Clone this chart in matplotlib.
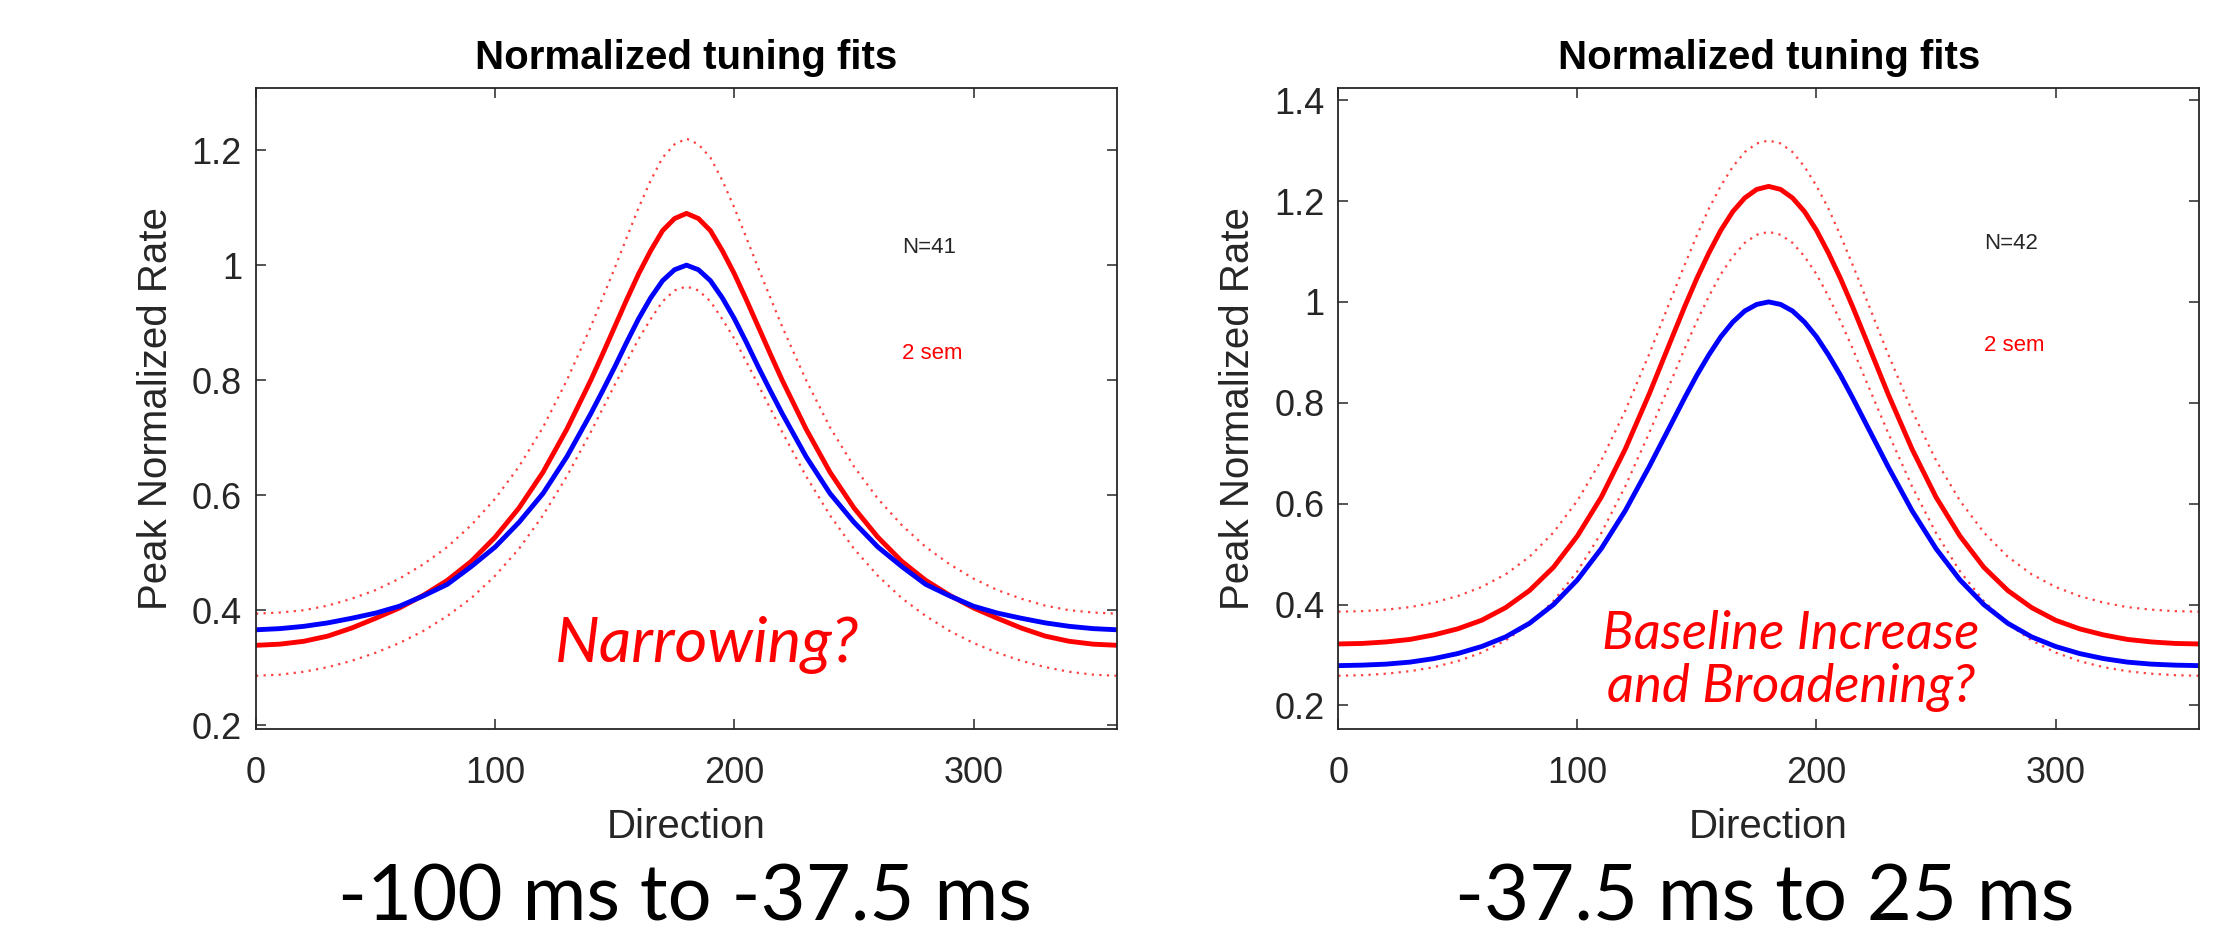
import matplotlib
matplotlib.use("Agg")
import matplotlib.pyplot as plt

# ---------------- data ----------------
direction = [0, 10, 20, 30, 40, 50, 60, 70, 80, 90, 100, 110, 120, 130, 140,
             145, 150, 155, 160, 165, 170, 175, 180, 185, 190, 195, 200, 205, 210, 215,
             220, 230, 240, 250, 260, 270, 280, 290, 300, 310, 320, 330, 340, 350, 360]

# left panel (-100 ms to -37.5 ms)
left_blue = [0.366, 0.368, 0.372, 0.378, 0.386, 0.395, 0.407, 0.425, 0.445, 0.476, 0.510, 0.553,
             0.603, 0.667, 0.742, 0.782, 0.823, 0.866, 0.907, 0.943, 0.973, 0.992, 1.000,
             0.992, 0.973, 0.943, 0.907, 0.866, 0.823, 0.782, 0.742, 0.667, 0.603, 0.553,
             0.510, 0.476, 0.445, 0.425, 0.407, 0.395, 0.386, 0.378, 0.372, 0.368, 0.366]
left_red = [0.339, 0.341, 0.346, 0.355, 0.369, 0.386, 0.404, 0.426, 0.452, 0.485, 0.527, 0.578,
            0.640, 0.715, 0.800, 0.846, 0.893, 0.940, 0.985, 1.025, 1.060, 1.081, 1.090,
            1.081, 1.060, 1.025, 0.985, 0.940, 0.893, 0.846, 0.800, 0.715, 0.640, 0.578,
            0.527, 0.485, 0.452, 0.426, 0.404, 0.386, 0.369, 0.355, 0.346, 0.341, 0.339]
left_red_hi = [0.394, 0.396, 0.400, 0.408, 0.420, 0.435, 0.455, 0.480, 0.510, 0.548, 0.594, 0.650,
               0.718, 0.800, 0.893, 0.944, 0.995, 1.048, 1.100, 1.147, 1.187, 1.210, 1.220,
               1.210, 1.187, 1.147, 1.100, 1.048, 0.995, 0.944, 0.893, 0.800, 0.718, 0.650,
               0.594, 0.548, 0.510, 0.480, 0.455, 0.435, 0.420, 0.408, 0.400, 0.396, 0.394]
left_red_lo = [0.286, 0.288, 0.293, 0.301, 0.312, 0.326, 0.343, 0.364, 0.390, 0.421, 0.460, 0.507,
               0.565, 0.633, 0.710, 0.751, 0.792, 0.832, 0.872, 0.906, 0.937, 0.956, 0.963,
               0.956, 0.937, 0.906, 0.872, 0.832, 0.792, 0.751, 0.710, 0.633, 0.565, 0.507,
               0.460, 0.421, 0.390, 0.364, 0.343, 0.326, 0.312, 0.301, 0.293, 0.288, 0.286]

# right panel (-37.5 ms to 25 ms)
right_blue = [0.279, 0.280, 0.282, 0.286, 0.293, 0.303, 0.317, 0.336, 0.363, 0.400, 0.449, 0.511,
              0.586, 0.673, 0.765, 0.811, 0.855, 0.895, 0.931, 0.960, 0.982, 0.995, 1.000,
              0.995, 0.982, 0.960, 0.931, 0.895, 0.855, 0.811, 0.765, 0.673, 0.586, 0.511,
              0.449, 0.400, 0.363, 0.336, 0.317, 0.303, 0.293, 0.286, 0.282, 0.280, 0.279]
right_red = [0.322, 0.323, 0.326, 0.331, 0.340, 0.352, 0.369, 0.394, 0.428, 0.474, 0.536, 0.613,
             0.708, 0.817, 0.934, 0.992, 1.047, 1.097, 1.142, 1.179, 1.206, 1.223, 1.229,
             1.223, 1.206, 1.179, 1.142, 1.097, 1.047, 0.992, 0.934, 0.817, 0.708, 0.613,
             0.536, 0.474, 0.428, 0.394, 0.369, 0.352, 0.340, 0.331, 0.326, 0.323, 0.322]
right_red_hi = [0.386, 0.387, 0.390, 0.395, 0.404, 0.417, 0.435, 0.460, 0.495, 0.543, 0.606, 0.686,
                0.784, 0.896, 1.016, 1.075, 1.132, 1.185, 1.230, 1.268, 1.297, 1.314, 1.320,
                1.314, 1.297, 1.268, 1.230, 1.185, 1.132, 1.075, 1.016, 0.896, 0.784, 0.686,
                0.606, 0.543, 0.495, 0.460, 0.435, 0.417, 0.404, 0.395, 0.390, 0.387, 0.386]
right_red_lo = [0.259, 0.260, 0.263, 0.268, 0.276, 0.288, 0.305, 0.329, 0.362, 0.407, 0.466, 0.542,
                0.634, 0.740, 0.852, 0.909, 0.962, 1.011, 1.055, 1.090, 1.117, 1.133, 1.139,
                1.133, 1.117, 1.090, 1.055, 1.011, 0.962, 0.909, 0.852, 0.740, 0.634, 0.542,
                0.466, 0.407, 0.362, 0.329, 0.305, 0.288, 0.276, 0.268, 0.263, 0.260, 0.259]

x_ticks = [0, 100, 200, 300]
left_yticks = [0.2, 0.4, 0.6, 0.8, 1.0, 1.2]
left_yticklabels = ["0.2", "0.4", "0.6", "0.8", "1", "1.2"]
right_yticks = [0.2, 0.4, 0.6, 0.8, 1.0, 1.2, 1.4]
right_yticklabels = ["0.2", "0.4", "0.6", "0.8", "1", "1.2", "1.4"]

titles = ["Normalized tuning fits", "Normalized tuning fits"]
n_labels = ["N=41", "N=42"]
sem_label = "2 sem"
annotations = ["Narrowing?", "Baseline Increase\nand Broadening?"]
captions = ["-100 ms to -37.5 ms", "-37.5 ms to 25 ms"]

# ---------------- figure ----------------
W, H = 2215, 941
fig = plt.figure(figsize=(W / 100, H / 100), dpi=100)
plt.rcParams['font.family'] = ['Liberation Sans', 'DejaVu Sans']

dark = '#262626'
panels = [
    dict(rect=[256 / W, 1 - 728.7 / H, 861 / W, 640.7 / H], ylim=(0.194, 1.308),
         yt=left_yticks, ytl=left_yticklabels,
         blue=left_blue, red=left_red, hi=left_red_hi, lo=left_red_lo,
         ny=1.03, sy=0.847, ann_xy=(188.5, 0.310), ann_fs=45.5),
    dict(rect=[1338.3 / W, 1 - 728.7 / H, 860.7 / W, 640.7 / H], ylim=(0.154, 1.424),
         yt=right_yticks, ytl=right_yticklabels,
         blue=right_blue, red=right_red, hi=right_red_hi, lo=right_red_lo,
         ny=1.116, sy=0.914, ann_xy=(189.3, 0.206), ann_fs=38),
]

for i, p in enumerate(panels):
    ax = fig.add_axes(p['rect'])
    ax.plot(direction, p['hi'], color='#ff4040', lw=1.6, linestyle=(0, (1, 2.4)))
    ax.plot(direction, p['lo'], color='#ff4040', lw=1.6, linestyle=(0, (1, 2.4)))
    ax.plot(direction, p['red'], color='#ff0000', lw=3.5, solid_joinstyle='round')
    ax.plot(direction, p['blue'], color='#0000ff', lw=3.5, solid_joinstyle='round')
    ax.set_xlim(0, 360)
    ax.set_ylim(*p['ylim'])
    ax.set_xticks(x_ticks)
    ax.set_xticklabels([str(t) for t in x_ticks])
    ax.set_yticks(p['yt'])
    ax.set_yticklabels(p['ytl'])
    ax.tick_params(direction='in', length=7, width=1.1, colors=dark, labelsize=26,
                   top=True, right=True)
    ax.tick_params(axis='x', pad=20)
    ax.tick_params(axis='y', pad=10)
    for s in ax.spines.values():
        s.set_color(dark)
        s.set_linewidth(1.3)
    ax.set_title(titles[i], fontsize=29, fontweight='bold', color='black', pad=14)
    ax.set_xlabel("Direction", fontsize=29, color=dark, labelpad=12)
    ax.set_ylabel("Peak Normalized Rate", fontsize=29, color=dark, labelpad=12)
    ax.text(270, p['ny'], n_labels[i], fontsize=16, color=dark, va='center', ha='left')
    ax.text(270, p['sy'], sem_label, fontsize=16, color='#ff0000', va='center', ha='left')
    ax.text(p['ann_xy'][0], p['ann_xy'][1], annotations[i], fontsize=p['ann_fs'],
            color='#ff0000', style='italic', family=['Lato', 'DejaVu Sans'],
            ha='center', va='baseline', multialignment='center', linespacing=1.14)

fig.text(684.5 / W, 1 - 899 / H, captions[0], fontsize=56, color='black',
         family=['Lato', 'DejaVu Sans'], ha='center', va='center')
fig.text(1765 / W, 1 - 899 / H, captions[1], fontsize=56, color='black',
         family=['Lato', 'DejaVu Sans'], ha='center', va='center')

fig.savefig("out.png", dpi=100, facecolor='white')
